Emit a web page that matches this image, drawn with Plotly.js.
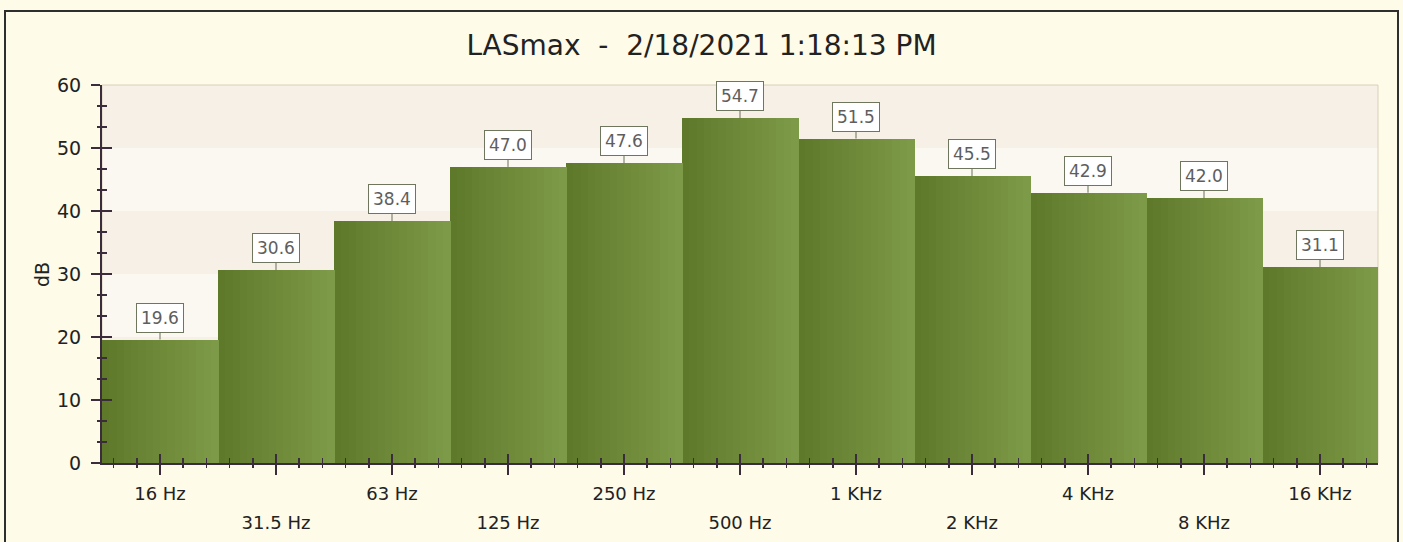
<!DOCTYPE html>
<html>
<head>
<meta charset="utf-8">
<script src="https://cdn.plot.ly/plotly-3.0.1.min.js"></script>
<style>
html,body{margin:0;padding:0;background:#fefbe9;overflow:hidden;}
#wrap{position:relative;width:1403px;height:542px;}
#chart{width:1403px;height:542px;}
#frame{position:absolute;left:4px;top:10px;width:1391px;height:600px;border:2px solid #2e2e2e;pointer-events:none;}
</style>
</head>
<body>
<div id="wrap"><div id="chart"></div><div id="frame"></div></div>
<script>
const titleText = 'LASmax\u00a0\u00a0-\u00a0\u00a02/18/2021 1:18:13 PM';
const categories = ['16 Hz','31.5 Hz','63 Hz','125 Hz','250 Hz','500 Hz','1 KHz','2 KHz','4 KHz','8 KHz','16 KHz'];
const values = [19.6, 30.6, 38.4, 47.0, 47.6, 54.7, 51.5, 45.5, 42.9, 42.0, 31.1];
const yTicks = [0, 10, 20, 30, 40, 50, 60];
const yTitle = 'dB';

const idx = categories.map((c, i) => i);
const N = 16;
const c0 = [94, 121, 42], c1 = [125, 154, 72];
const traces = [];
for (let k = 0; k < N; k++) {
  const t = k / (N - 1);
  const col = 'rgb(' + c0.map((v, j) => Math.round(v + (c1[j] - v) * t)).join(',') + ')';
  traces.push({
    type: 'bar', x: idx, y: values,
    width: 1 / N + 0.006, offset: -0.5 + k / N,
    marker: {color: col, line: {width: 0}},
    hoverinfo: 'skip', showlegend: false
  });
}
// invisible helper so the overlaid tick axes get drawn
traces.push({type: 'scatter', mode: 'markers', x: [idx[0]], y: [yTicks[0]], xaxis: 'x2', yaxis: 'y2',
  marker: {opacity: 0}, hoverinfo: 'skip', showlegend: false});

const axColor = '#3a2c3a';
const bands = [];
for (let i = 0; i < yTicks.length - 1; i++) {
  bands.push({type: 'rect', xref: 'paper', x0: 0, x1: 1, yref: 'y', y0: yTicks[i], y1: yTicks[i + 1],
    fillcolor: (i % 2 === 1) ? '#f6f0e6' : '#fbf8f1', line: {width: 0}, layer: 'below'});
}
bands.push({type: 'rect', xref: 'paper', x0: 0, x1: 1, yref: 'paper', y0: 0, y1: 1,
  fillcolor: 'rgba(0,0,0,0)', line: {color: '#d8cfbb', width: 1}, layer: 'below'});

const annotations = values.map((v, i) => ({
  x: idx[i], y: v, xref: 'x', yref: 'y', text: v.toFixed(1),
  showarrow: true, arrowhead: 0, arrowwidth: 1, arrowcolor: '#6a7058', ax: 0, ay: -22,
  bgcolor: '#ffffff', bordercolor: '#6f765e', borderwidth: 1, borderpad: 4,
  font: {family: 'DejaVu Sans', size: 17, color: '#5e5e5e'}
}));
annotations.push({
  xref: 'paper', yref: 'paper', x: (42 - 102) / 1276, y: (463 - 275) / 378, xanchor: 'center', yanchor: 'middle',
  text: yTitle, showarrow: false, textangle: -90, font: {family: 'DejaVu Sans', size: 19, color: '#222'}
});

const tickFont = {family: 'DejaVu Sans', size: 18, color: '#222'};
const layout = {
  width: 1403, height: 542,
  margin: {l: 102, r: 25, t: 85, b: 79},
  paper_bgcolor: '#fefbe9', plot_bgcolor: '#faf6ee',
  barmode: 'overlay', bargap: 0,
  title: {text: titleText, xref: 'container', x: 0.5, xanchor: 'center', yref: 'container', y: 1 - 45 / 542, yanchor: 'middle',
    font: {family: 'DejaVu Sans', size: 28, color: '#222'}},
  xaxis: {range: [-0.5, 10.5], tickmode: 'array', tickvals: idx,
    ticktext: categories.map((c, i) => i % 2 === 0 ? c : ''),
    ticks: 'outside', ticklen: 10, tickwidth: 2, tickcolor: axColor,
    showline: true, linecolor: axColor, linewidth: 2, showgrid: false, zeroline: false,
    minor: {tickmode: 'linear', tick0: 0, dtick: 0.2, ticks: 'outside', ticklen: 3, tickwidth: 1.5, tickcolor: axColor, showgrid: false},
    tickfont: tickFont, ticklabelstandoff: 3, fixedrange: true},
  xaxis2: {overlaying: 'x', anchor: 'y2', side: 'bottom', matches: 'x', range: [-0.5, 10.5], tickmode: 'array', tickvals: idx,
    ticktext: categories.map((c, i) => i % 2 === 1 ? c : ''),
    ticks: 'inside', ticklen: 9, tickwidth: 2, tickcolor: axColor, ticklabelstandoff: 47,
    showline: false, showgrid: false, zeroline: false,
    minor: {tickmode: 'linear', tick0: 0, dtick: 0.2, ticks: 'inside', ticklen: 5, tickwidth: 1.5, tickcolor: axColor, showgrid: false},
    tickfont: tickFont, fixedrange: true},
  yaxis: {range: [0, 60], tickmode: 'array', tickvals: yTicks,
    ticks: 'outside', ticklen: 9, tickwidth: 2, tickcolor: axColor,
    showline: true, linecolor: axColor, linewidth: 2, showgrid: false, zeroline: false,
    minor: {tickmode: 'linear', tick0: 0, dtick: 10 / 3, ticks: 'outside', ticklen: 3, tickwidth: 1.5, tickcolor: axColor, showgrid: false},
    tickfont: {family: 'DejaVu Sans', size: 19, color: '#222'}, ticklabelstandoff: 6, fixedrange: true},
  yaxis2: {overlaying: 'y', anchor: 'x2', side: 'left', matches: 'y', range: [0, 60], tickmode: 'array', tickvals: yTicks,
    ticks: 'inside', ticklen: 10, tickwidth: 2, tickcolor: axColor, showticklabels: false,
    showline: false, showgrid: false, zeroline: false,
    minor: {tickmode: 'linear', tick0: 0, dtick: 10 / 3, ticks: 'inside', ticklen: 5, tickwidth: 1.5, tickcolor: axColor, showgrid: false},
    fixedrange: true},
  shapes: bands,
  annotations: annotations
};
Plotly.newPlot('chart', traces, layout, {displayModeBar: false, staticPlot: true});
</script>
</body>
</html>
